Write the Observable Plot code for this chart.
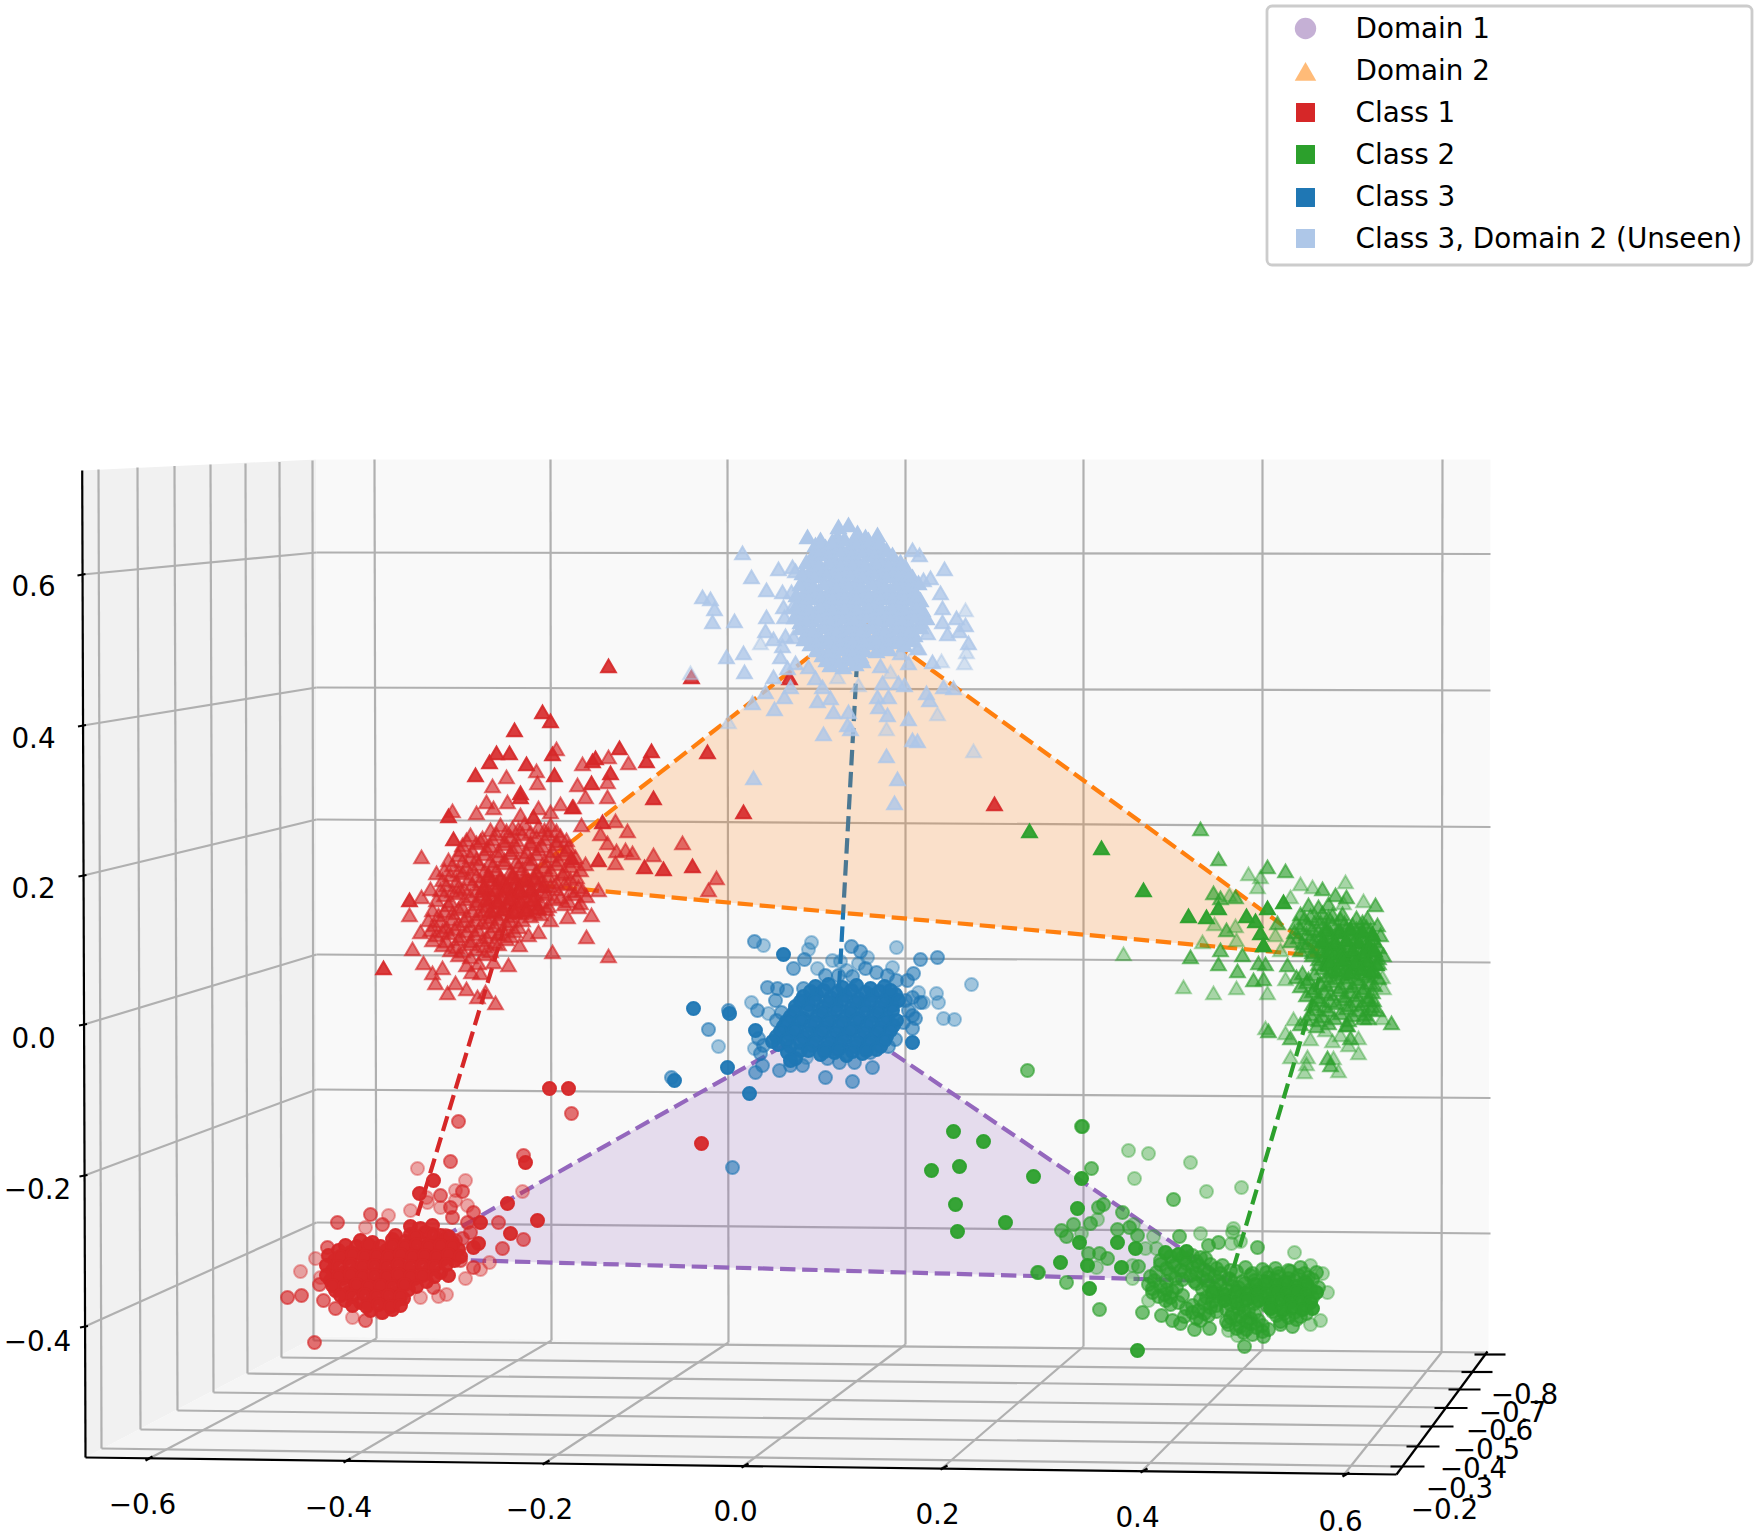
<!DOCTYPE html>
<html>
<head>
<meta charset="utf-8">
<script src="https://cdn.jsdelivr.net/npm/d3@7"></script>
<script src="https://cdn.jsdelivr.net/npm/@observablehq/plot@0.6"></script>
<style>
  html, body { margin: 0; padding: 0; background: #fff; }
  svg { display: block; }
</style>
</head>
<body>
<div id="chart"></div>
<script>
const legendLabels = ["Domain 1", "Domain 2", "Class 1", "Class 2", "Class 3", "Class 3, Domain 2 (Unseen)"]
const legendColors = ["#c5b0d5", "#ffbb78", "#d62728", "#2ca02c", "#1f77b4", "#aec7e8"]
const legendSymbols = ["circle", "triangle", "square", "square", "square", "square"]
const legendY = [28, 71, 112, 154, 197, 238]
const legendTextY = [29, 71, 113, 155, 197, 239]

// floor x axis
const xLabels = ["−0.6", "−0.4", "−0.2", "0.0", "0.2", "0.4", "0.6"]
const xLabelX = [142, 338, 539, 735, 937, 1137, 1340]
const xLabelY = [1505, 1508, 1510, 1512, 1515, 1518, 1522]
const xTopX = [374, 550, 727, 905, 1083, 1262, 1442]
const xBackX = [376, 551, 728, 905, 1083, 1262, 1441]
const xBackY = [1338, 1340, 1342, 1344, 1346, 1349, 1352]
const xFrontX = [145, 343, 542, 741, 940, 1140, 1342]
const xFrontY = [1460, 1462, 1464, 1467, 1469, 1472, 1476]

// depth axis, right side of the floor
const depthLabels = ["−0.8", "−0.7", "−0.6", "−0.5", "−0.4", "−0.3", "−0.2"]
const depthLabelX = [1524, 1512, 1499, 1486, 1473, 1459, 1444]
const depthLabelY = [1395, 1413, 1431, 1450, 1469, 1489, 1510]
const depthTopX = [312, 279, 245, 210, 174, 137, 98]
const depthWallX = [313, 281, 247, 213, 177, 140, 101]
const depthWallTop = [460, 461.5, 463, 464, 465.5, 467, 469]
const depthWallBottom = [1340, 1357, 1373, 1392, 1410, 1429, 1448]
const depthEndX = [1487, 1474, 1460, 1447, 1432, 1417, 1402]
const depthEndY = [1352, 1371, 1388, 1407, 1426, 1445, 1466]
const depthTickIn = [1474, 1461, 1448, 1434, 1420, 1406, 1390]
const depthTickOut = [1505, 1492, 1480, 1467, 1453, 1439, 1424]
const depthTickY = [1354, 1371.5, 1389, 1407.5, 1426, 1446, 1466]

// vertical axis
const zLabels = ["0.6", "0.4", "0.2", "0.0", "−0.2", "−0.4"]
const zLabelX = [33, 33, 33, 33, 37, 37]
const zLabelY = [587, 739, 889, 1039, 1190, 1342]
const zAxisX = [82, 82.5, 83, 83.5, 84, 84.5]
const zAxisY = [574, 725, 875, 1024, 1175, 1326]
const zBackLeft = [552, 687, 819, 954, 1089, 1222]
const zBackRight = [553.5, 690, 826.5, 962, 1097.5, 1233]
const cornerX = 316
const backRightX = 1490

const leftWall = [[81.7, 470], [316, 459], [316, 1336], [85, 1457]]
const backWall = [[316, 459], [1490, 459], [1488, 1352], [316, 1336]]
const floorPane = [[85, 1457], [316, 1336], [1488, 1352], [1396, 1474]]
const axisLines = [[81.7, 470, 85, 1457], [85, 1457, 1396, 1474], [1396, 1474, 1487, 1351]]

// class centres per domain
const d1Class1 = [404, 1258], d1Class2 = [1229, 1281], d1Class3 = [837, 1015]
const d2Class1 = [517, 883], d2Class2 = [1325, 956], d2Class3 = [859, 617]

const blueNear = [[783,954],[729,1013],[755,1030],[727,1067],[674,1080],[749,1093],[912,1042],[890,995],[693,1008],
  [815,986],[828,984],[842,987],[856,985],[870,988],[884,986],
  [803,996],[816,994],[830,997],[845,995],[858,998],[872,995],[886,997],[895,994],
  [795,1006],[808,1004],[822,1007],[836,1005],[850,1008],[864,1005],[878,1007],[892,1005],
  [790,1016],[803,1018],[817,1015],[831,1017],[845,1016],[859,1018],[873,1015],[887,1017],
  [783,1026],[796,1028],[810,1025],[824,1027],[838,1026],[852,1028],[866,1025],[880,1027],[893,1025],
  [776,1036],[789,1034],[803,1037],[817,1035],[831,1037],[845,1035],[860,1037],[874,1035],[886,1036],
  [778,1044],[790,1046],[812,1045],[826,1047],[840,1045],[854,1046],[868,1044],[880,1046],
  [820,1054],[834,1052],[846,1055],[862,1053],[787,1052],[795,1058],[800,1050],[790,1060],
  [810,991],[823,990],[837,992],[851,990],[865,992],[879,991],[890,990],
  [800,1001],[814,1000],[828,1002],[842,1000],[856,1002],[870,1001],[884,1002],[898,1000],
  [794,1011],[808,1010],[822,1012],[836,1010],[850,1012],[864,1011],[878,1012],[892,1010],
  [786,1021],[800,1020],[814,1022],[828,1021],[842,1022],[856,1020],[870,1022],[884,1021],[896,1020],
  [780,1031],[794,1030],[808,1032],[822,1031],[836,1032],[850,1030],[864,1032],[878,1031],[890,1030],
  [772,1041],[786,1040],[800,1042],[814,1041],[828,1042],[842,1040],[856,1042],[870,1041],[884,1040],
  [808,1050],[824,1051],[838,1049],[852,1051],[866,1050],[876,1049]]
const blueMid = [[754,941],[708,1029],[732,1167],[671,1077],[728,1010],[937,957],[920,959],[804,959],[793,968],[851,946],[860,951],
  [825,1077],[852,1081],[872,1067],[854,1062],[839,1062],[827,1058],[779,1070],[755,1072],[762,1065],[802,1065],[790,1065],
  [757,1010],[767,987],[777,988],[786,990],[803,988],[825,975],[865,968],[876,972],[887,975],[896,980],[907,980],[913,973],
  [912,997],[920,1002],[912,1015],[912,1028],[915,1018],[760,1053],[758,1038],[763,1045],[870,1052],[888,1046],[895,1039],
  [775,1000],[781,1012],[776,1020],[905,1000],[908,1010],[903,1022],[838,975],[852,976]]
const blueFar = [[763,945],[811,942],[808,949],[832,960],[840,961],[867,957],[896,947],[892,967],[971,984],[936,993],[938,1002],
  [943,1018],[954,1019],[751,1002],[718,1046],[768,1013],[754,1048],[918,992],[923,1002],[846,970],[858,963],[806,1057],[817,968]]

const red2Near = [[542,712],[550,721],[514,730],[509,753],[496,753],[489,762],[475,775],[526,764],[552,754],[554,775],[592,761],[595,758],
  [619,748],[651,751],[646,761],[610,773],[591,783],[707,752],[653,798],[448,816],[409,900],[520,793],[520,797],[533,817],[572,807],
  [453,839],[602,822],[571,858],[598,860],[644,867],[663,869],[692,866],[383,968],[743,812],[994,804],[608,666],[691,677],[789,678],
  [488,876],[500,879],[512,877],[524,880],[534,878],[483,888],[495,890],[507,887],[519,891],[531,889],[543,886],
  [486,899],[497,901],[509,898],[521,902],[533,900],[490,911],[502,909],[514,912],[526,910],[538,908]]
const red2Mid = [[452,811],[492,786],[506,777],[536,771],[537,783],[556,749],[582,764],[608,757],[628,763],[577,785],[607,782],[585,797],[607,797],
  [560,804],[573,807],[550,812],[476,813],[486,802],[493,808],[507,802],[520,815],[538,808],[581,825],[600,834],[615,821],[627,831],
  [607,843],[616,851],[632,853],[625,850],[653,855],[615,863],[682,843],[708,890],[716,878],[421,857],[436,873],[430,889],[421,897],[409,915],[420,932],
  [412,949],[423,963],[432,973],[442,968],[435,983],[447,993],[455,983],[466,989],[477,997],[485,992],[495,1003],[508,965],[493,962],
  [552,952],[608,956],[586,937],[550,920],[567,917],[591,915],[580,903],[598,890],[538,932],[528,935],[519,945],[471,972],[480,973],
  [500,825],[512,828],[524,824],[538,827],[550,825],
  [470,835],[482,838],[496,834],[510,837],[522,834],[536,837],[548,834],[560,836],
  [462,845],[476,843],[490,846],[504,844],[516,847],[530,844],[542,846],[556,844],[568,847],
  [458,855],[470,857],[484,854],[498,856],[510,853],[524,857],[536,854],[550,856],[564,854],[575,857],
  [452,865],[466,867],[478,864],[492,866],[504,863],[518,866],[530,864],[544,867],[556,864],[570,866],[585,864],
  [450,875],[462,873],[476,876],[488,874],[500,877],[512,874],[524,876],[536,873],[548,876],[562,874],[576,877],
  [446,885],[458,887],[472,884],[484,886],[496,883],[506,886],[516,884],[526,887],[538,884],[550,886],[564,884],[578,887],
  [444,895],[458,893],[470,896],[482,894],[492,897],[502,894],[512,896],[522,893],[534,896],[546,894],[560,897],[574,894],[586,896],
  [448,905],[462,907],[476,904],[486,906],[496,903],[506,906],[516,904],[526,907],[536,904],[548,906],[564,904],[578,907],
  [438,915],[452,913],[466,916],[478,914],[490,917],[500,914],[510,916],[520,913],[530,916],[540,914],
  [434,925],[446,927],[458,924],[470,926],[482,923],[494,926],[506,924],[518,927],
  [436,935],[448,933],[460,936],[474,934],[486,937],[498,934],[510,936],
  [442,945],[456,947],[470,944],[484,946],[498,944],[458,955],[470,957],[484,954],[466,965],[478,963],
  [490,830],[506,831],[518,829],[530,832],[544,830],[556,831],
  [466,840],[480,841],[492,839],[504,841],[516,840],[530,842],[544,839],[556,841],[566,840],
  [460,850],[472,851],[486,849],[498,851],[512,850],[526,852],[538,849],[552,851],[566,850],
  [448,860],[462,861],[476,859],[490,861],[504,860],[516,862],[530,859],[544,861],[558,860],[572,861],
  [444,870],[458,871],[472,869],[484,871],[496,870],[510,872],[522,869],[536,871],[550,870],[564,872],[580,870],
  [442,880],[456,881],[468,879],[480,881],[492,880],[504,882],[516,879],[528,881],[542,880],[556,882],[570,879],
  [440,890],[452,891],[464,889],[476,891],[488,890],[500,892],[510,889],[520,891],[530,890],[542,892],[556,889],[570,891],[582,890],
  [436,900],[450,901],[464,899],[476,901],[488,900],[498,902],[508,899],[518,901],[528,900],[540,902],[554,899],[568,901],
  [432,910],[444,911],[458,909],[472,911],[484,910],[494,912],[504,909],[514,911],[524,910],[534,912],[546,909],
  [428,920],[440,921],[452,919],[464,921],[476,920],[488,922],[498,919],[510,921],[522,920],
  [430,930],[442,931],[454,929],[466,931],[478,930],[490,932],[502,929],[514,931],
  [432,940],[446,941],[458,939],[470,941],[482,940],[494,942],[506,939],[450,950],[462,951],[476,949],[490,951]]

const green2Near = [[1143,890],[1218,908],[1029,831],[1101,848],[1188,916],[1206,917],[1267,908],[1283,902],[1246,916],[1255,921],[1260,933],[1263,945],
  [1326,930],[1338,932],[1350,929],[1362,931],[1372,934],[1322,941],[1334,943],[1346,940],[1358,942],[1368,945],
  [1328,951],[1340,953],[1352,950],[1364,952],[1374,950],[1330,962],[1342,960],[1354,963],[1366,961],[1376,964],[1336,970],[1348,972],[1360,969],[1370,971]]
const green2Mid = [[1200,829],[1218,859],[1267,867],[1285,871],[1322,889],[1335,895],[1346,897],[1375,905],[1213,893],[1220,898],[1235,897],[1226,930],[1263,945],
  [1220,950],[1190,957],[1242,955],[1218,964],[1237,971],[1258,963],[1265,964],[1253,980],[1263,979],[1268,1031],[1290,1038],[1327,1058],[1330,1065],[1350,1038],
  [1391,1023],[1363,1018],[1368,1018],[1347,1025],[1377,1010],[1373,1000],[1383,955],[1380,935],[1377,925],[1367,918],[1287,965],[1277,923],
  [1308,905],[1318,907],[1328,904],[1300,914],[1310,916],[1322,913],[1332,915],[1342,914],
  [1296,923],[1308,925],[1320,922],[1332,924],[1344,923],[1352,925],[1362,922],
  [1294,932],[1306,934],[1318,931],[1330,933],[1340,931],[1350,934],[1360,932],[1370,930],
  [1290,941],[1302,943],[1314,940],[1324,942],[1334,941],[1344,943],[1354,940],[1364,942],[1374,941],
  [1300,950],[1312,952],[1322,949],[1332,951],[1342,950],[1352,952],[1362,949],[1372,951],
  [1318,959],[1328,961],[1338,958],[1348,960],[1358,959],[1368,961],[1378,958],
  [1322,968],[1332,970],[1342,967],[1352,969],[1362,968],[1372,970],
  [1296,977],[1308,979],[1326,976],[1336,978],[1346,977],[1358,979],[1368,976],[1378,978],
  [1300,986],[1314,988],[1326,985],[1340,987],[1352,986],[1364,988],[1374,985],
  [1306,995],[1318,997],[1330,994],[1344,996],[1356,995],[1368,997],
  [1312,1004],[1324,1006],[1336,1003],[1350,1005],[1362,1004],[1372,1006],
  [1310,1014],[1322,1016],[1340,1013],[1352,1015],[1364,1014],[1300,1024],[1316,1026],[1328,1023],[1346,1025],
  [1304,918],[1316,919],[1328,917],[1340,919],[1356,918],
  [1300,928],[1312,929],[1326,927],[1338,929],[1346,928],[1356,929],[1366,927],
  [1298,937],[1310,938],[1320,936],[1330,938],[1342,937],[1352,938],[1362,936],[1372,938],
  [1306,946],[1318,947],[1328,945],[1338,947],[1348,946],[1358,947],[1368,945],[1378,947],
  [1312,955],[1324,956],[1334,954],[1344,956],[1354,955],[1364,956],[1374,954],
  [1318,964],[1328,965],[1338,963],[1348,965],[1358,964],[1368,965],[1378,963],
  [1302,973],[1314,974],[1330,972],[1342,974],[1352,973],[1364,974],[1374,972],
  [1306,982],[1320,983],[1332,981],[1346,983],[1358,982],[1370,983],
  [1312,991],[1324,992],[1338,990],[1350,992],[1362,991],[1372,992],
  [1318,1000],[1330,1001],[1344,999],[1356,1001],[1368,1000],
  [1316,1009],[1328,1010],[1346,1008],[1358,1010],[1370,1009],[1306,1019],[1318,1020],[1334,1018],[1348,1020]]
const green2Far = [[1248,874],[1260,877],[1257,887],[1300,884],[1312,887],[1345,882],[1343,903],[1363,901],[1229,895],[1214,924],[1235,926],[1236,940],[1202,942],
  [1290,897],[1123,954],[1183,987],[1213,993],[1236,988],[1267,993],[1265,1028],[1285,1033],[1293,1019],[1290,1057],[1307,1057],[1306,1064],[1304,1072],
  [1333,1058],[1338,1071],[1358,1053],[1348,1045],[1358,1038],[1340,1035],[1332,1041],[1325,1030],[1310,1039],[1382,1018],[1382,977],[1383,988],[1280,950],[1285,979],[1275,935]]

const lightNear = [[807,537],[838,527],[848,525],[837,537],[857,533],[865,537],[877,535],
  [815,545],[825,547],[838,544],[850,546],[860,543],[870,546],[880,544],
  [812,556],[822,554],[833,557],[845,555],[856,558],[868,555],[880,557],[892,555],
  [812,567],[824,569],[835,566],[846,568],[858,567],[870,569],[882,566],[894,568],[905,567],
  [808,578],[820,576],[832,579],[844,577],[856,580],[868,577],[880,579],[892,576],[904,579],[912,577],
  [806,589],[818,591],[830,588],[842,590],[854,589],[866,591],[878,588],[890,590],[902,589],[914,591],
  [802,600],[814,598],[826,601],[838,599],[850,602],[862,599],[874,601],[886,598],[898,601],[910,599],[920,600],
  [802,611],[814,613],[826,610],[838,612],[850,611],[862,613],[874,610],[886,612],[898,611],[910,613],[922,610],
  [800,622],[812,620],[824,623],[836,621],[848,624],[860,621],[872,623],[884,620],[896,623],[908,621],[920,622],
  [806,633],[818,635],[830,632],[842,634],[854,633],[866,635],[878,632],[890,634],[902,633],[914,635],
  [810,644],[822,642],[834,645],[846,643],[858,646],[870,643],[882,645],[894,642],[904,645],
  [822,655],[835,657],[848,654],[860,656],[830,665],[843,667],[855,664],
  [820,540],[832,541],[844,539],[856,541],[868,540],[878,541],
  [818,551],[828,552],[840,550],[851,552],[862,551],[874,552],[886,550],
  [806,562],[818,563],[829,561],[840,563],[852,562],[864,563],[876,561],[888,563],[900,562],
  [802,573],[814,574],[826,572],[838,574],[850,573],[862,574],[874,572],[886,574],[898,573],[908,574],
  [800,584],[812,585],[824,583],[836,585],[848,584],[860,585],[872,583],[884,585],[896,584],[908,585],[918,583],
  [796,595],[808,596],[820,594],[832,596],[844,595],[856,596],[868,594],[880,596],[892,595],[904,596],[915,594],
  [796,606],[808,607],[820,605],[832,607],[844,606],[856,607],[868,605],[880,607],[892,606],[904,607],[916,605],
  [794,617],[806,618],[818,616],[830,618],[842,617],[854,618],[866,616],[878,618],[890,617],[902,618],[914,616],[926,618],
  [800,628],[812,629],[824,627],[836,629],[848,628],[860,629],[872,627],[884,629],[896,628],[908,629],[920,627],
  [804,639],[816,640],[828,638],[840,640],[852,639],[864,640],[876,638],[888,640],[900,639],[910,640],
  [816,650],[828,651],[840,649],[852,651],[864,650],[876,651],[888,649],[826,660],[838,661],[850,659],[862,661]]
const lightMid = [[742,553],[751,577],[778,569],[792,567],[795,571],[766,590],[782,592],[791,592],[702,597],[710,599],[714,609],[712,622],[734,621],
  [766,617],[784,617],[792,607],[783,607],[765,631],[773,639],[782,646],[785,636],[793,637],[726,657],[743,653],[744,672],[780,657],[795,663],
  [773,677],[787,668],[808,667],[815,678],[822,687],[790,687],[765,692],[784,697],[752,703],[774,709],[817,701],[830,698],[833,712],[848,712],
  [847,725],[850,729],[823,734],[753,778],[887,715],[886,756],[897,779],[894,803],[908,719],[912,740],[917,741],[877,697],[878,707],[888,697],
  [880,666],[882,683],[898,683],[904,685],[908,663],[900,653],[918,648],[932,662],[926,693],[929,700],[943,687],[953,688],[947,634],[959,631],
  [965,625],[956,618],[942,622],[942,608],[940,593],[944,569],[919,555],[912,550],[923,580],[930,578],[927,633],[917,648],[968,643]]
const lightFar = [[690,673],[760,643],[728,722],[886,729],[937,714],[973,751],[858,685],[837,677],[890,672],[941,661],[964,663],[966,652],[965,610]]

const red1Near = [[568,1088],[433,1180],[419,1193],[525,1162],[507,1203],[537,1220],[510,1233],[480,1222],[473,1247],[478,1243],[403,1298],[448,1275],[701,1143],[549,1088],
  [410,1226],[420,1228],[432,1225],[410,1234],[425,1232],[440,1235],
  [360,1240],[372,1242],[392,1239],[405,1241],[418,1238],[430,1242],[442,1240],[452,1242],
  [338,1250],[350,1252],[362,1249],[374,1251],[386,1250],[398,1252],[410,1249],[422,1251],[434,1250],[446,1252],[458,1249],
  [334,1260],[346,1258],[358,1261],[370,1259],[382,1262],[394,1259],[406,1261],[418,1258],[430,1261],[442,1259],[454,1260],
  [332,1270],[344,1272],[356,1269],[368,1271],[380,1270],[392,1272],[404,1269],[416,1271],[428,1270],[440,1272],
  [330,1280],[342,1278],[354,1281],[366,1279],[378,1282],[390,1279],[402,1281],[414,1278],[426,1281],
  [335,1290],[348,1292],[360,1289],[372,1291],[384,1290],[396,1292],[408,1289],
  [345,1300],[360,1302],[372,1299],[384,1301],[396,1300],[370,1310],[382,1312],[392,1309],
  [395,1235],[415,1236],[432,1234],[448,1236],
  [345,1245],[356,1246],[368,1244],[380,1246],[392,1245],[404,1246],[416,1244],[428,1246],[440,1245],[452,1246],
  [328,1255],[340,1256],[352,1254],[364,1256],[376,1255],[388,1256],[400,1254],[412,1256],[424,1255],[436,1256],[448,1254],[460,1256],
  [326,1265],[338,1266],[350,1264],[362,1266],[374,1265],[386,1266],[398,1264],[410,1266],[422,1265],[434,1266],[446,1264],
  [326,1275],[338,1276],[350,1274],[362,1276],[374,1275],[386,1276],[398,1274],[410,1276],[422,1275],[434,1276],
  [332,1285],[344,1286],[356,1284],[368,1286],[380,1285],[392,1286],[404,1284],[416,1286],
  [340,1295],[352,1296],[364,1294],[376,1296],[388,1295],[400,1296],[352,1305],[366,1306],[378,1304],[390,1306],[400,1305]]
const red1Mid = [[571,1113],[458,1121],[450,1161],[523,1155],[498,1222],[523,1239],[502,1248],[467,1222],[462,1191],[440,1195],[450,1207],[473,1212],[452,1217],
  [370,1214],[337,1222],[382,1224],[327,1247],[287,1297],[301,1295],[314,1342],[323,1300],[335,1308],[365,1320],[433,1287],[473,1267],[460,1260],[319,1284],
  [445,1235],[455,1240],[462,1238],[470,1232]]
const red1Far = [[417,1168],[522,1191],[489,1262],[465,1180],[455,1190],[426,1197],[427,1202],[455,1200],[467,1205],[440,1207],[410,1210],[388,1215],[365,1227],
  [315,1258],[300,1271],[352,1317],[380,1312],[420,1297],[438,1296],[446,1294],[465,1278],[480,1269],[320,1277]]

const green1Near = [[1033,1176],[953,1131],[983,1141],[931,1170],[959,1166],[955,1204],[957,1231],[1005,1222],[1077,1208],[1079,1242],[1117,1242],[1060,1262],[1087,1265],[1121,1267],[1089,1288],[1137,1350],
  [1081,1178],[1135,1248],[1165,1252],[1178,1254],[1186,1251],
  [1255,1284],[1266,1282],[1276,1285],[1286,1283],[1296,1286],[1306,1283],[1256,1292],[1266,1294],[1276,1291],[1286,1293],[1296,1291],[1306,1294],[1316,1292],
  [1258,1300],[1270,1302],[1280,1299],[1290,1301],[1300,1300],[1310,1302],[1270,1308],[1282,1310],[1292,1307],[1302,1309],[1312,1308],[1212,1292],[1224,1294],[1236,1291],[1246,1293],[1224,1300],[1236,1302],[1246,1299]]
const green1Mid = [[1027,1070],[1081,1126],[1082,1126],[1091,1168],[1173,1199],[1103,1204],[1098,1207],[1122,1212],[1090,1223],[1073,1224],[1061,1230],[1066,1236],[1117,1229],[1129,1227],[1137,1235],
  [1179,1236],[1208,1245],[1218,1242],[1257,1247],[1088,1253],[1099,1253],[1107,1258],[1037,1272],[1066,1282],[1138,1266],[1099,1309],[1142,1312],[1161,1315],[1172,1320],[1180,1323],[1194,1329],[1209,1328],[1244,1346],[1263,1336],[1038,1272],
  [1160,1260],[1172,1262],[1184,1259],[1196,1261],[1205,1258],
  [1166,1268],[1180,1270],[1192,1267],[1204,1269],[1216,1268],[1230,1270],[1245,1267],[1262,1269],[1275,1268],[1288,1270],[1300,1267],
  [1150,1276],[1175,1278],[1190,1275],[1202,1277],[1214,1276],[1228,1278],[1250,1275],[1268,1277],[1278,1276],[1288,1278],[1298,1275],[1308,1277],
  [1148,1284],[1160,1286],[1196,1283],[1208,1285],[1220,1284],[1232,1286],[1244,1283],
  [1152,1292],[1164,1294],[1172,1291],[1165,1300],[1178,1302],[1200,1299],[1212,1301],
  [1186,1308],[1198,1310],[1210,1307],[1226,1309],[1238,1308],[1248,1310],
  [1184,1316],[1196,1318],[1208,1315],[1230,1317],[1240,1316],[1250,1318],[1276,1315],[1288,1317],[1300,1316],
  [1228,1324],[1240,1326],[1250,1323],[1262,1325],[1280,1324],[1292,1326],[1243,1332],[1252,1334],[1262,1331],
  [1170,1256],[1182,1257],[1192,1255],[1200,1257],
  [1160,1264],[1174,1265],[1186,1263],[1198,1265],[1210,1264],[1222,1265],
  [1156,1272],[1170,1273],[1184,1271],[1196,1273],[1208,1272],[1220,1273],[1236,1271],[1252,1273],[1266,1272],[1278,1273],[1290,1271],[1304,1273],[1316,1272],
  [1154,1280],[1166,1281],[1182,1279],[1194,1281],[1206,1280],[1218,1281],[1230,1279],[1242,1281],[1254,1280],[1264,1281],[1274,1279],[1284,1281],[1294,1280],[1304,1281],[1312,1279],
  [1152,1288],[1166,1289],[1176,1287],[1202,1289],[1214,1288],[1226,1289],[1238,1287],[1250,1289],[1260,1288],[1270,1289],[1280,1287],[1290,1289],[1300,1288],[1310,1289],[1318,1287],
  [1158,1296],[1170,1297],[1182,1295],[1206,1297],[1218,1296],[1230,1297],[1240,1295],[1252,1297],[1262,1296],[1272,1297],[1282,1295],[1292,1297],[1302,1296],[1312,1297],
  [1170,1304],[1192,1305],[1204,1303],[1216,1305],[1230,1304],[1242,1305],[1254,1303],[1266,1305],[1276,1304],[1286,1305],[1296,1303],[1306,1305],
  [1192,1312],[1204,1313],[1216,1311],[1232,1313],[1244,1312],[1254,1313],[1272,1311],[1284,1313],[1294,1312],[1306,1313],
  [1200,1320],[1226,1321],[1236,1319],[1246,1321],[1258,1320],[1280,1321],[1296,1319],[1236,1328],[1246,1329],[1256,1327],[1268,1329]]
const green1Far = [[1128,1150],[1148,1153],[1190,1162],[1134,1178],[1206,1191],[1241,1187],[1097,1219],[1081,1233],[1133,1224],[1145,1248],[1153,1236],[1156,1248],[1200,1233],
  [1233,1228],[1232,1232],[1240,1241],[1231,1243],[1294,1252],[1096,1267],[1132,1265],[1132,1278],[1148,1300],[1253,1323],[1228,1330],[1237,1335],[1310,1324],[1320,1320],[1327,1292],[1322,1273],[1310,1265]]

const font = "DejaVu Sans"
const labelSize = 27.8
const gridColor = "#b0b0b0"

function links(rows, options) {
  return Plot.link(rows, {x1: d => d[0], y1: d => d[1], x2: d => d[2], y2: d => d[3], ...options})
}

function pane(corners, options) {
  return Plot.line(corners, {x: d => d[0], y: d => d[1], curve: "linear-closed", stroke: "none", ...options})
}

function tickText(labels, xs, ys) {
  return Plot.text(labels, {x: (d, i) => xs[i], y: (d, i) => ys[i], text: d => d, fontSize: labelSize, fill: "black", textAnchor: "middle", lineAnchor: "middle"})
}

function points(rows, color, alpha, symbol) {
  const triangle = symbol === "triangle"
  return Plot.dot(rows, {
    x: d => d[0], y: d => d[1], symbol,
    r: triangle ? 5.5 : 6.5,
    dy: triangle ? 1.5 : 0,
    fill: color, stroke: color, strokeWidth: 2, fillOpacity: alpha, strokeOpacity: alpha
  })
}

function dashed(a, b, color) {
  return Plot.link([[a, b]], {
    x1: d => d[0][0], y1: d => d[0][1], x2: d => d[1][0], y2: d => d[1][1],
    stroke: color, strokeWidth: 4.2, strokeDasharray: "15.4,6.7", strokeLinecap: "butt"
  })
}

// one legend row per mark: a constant r stays in pixels
function legendMark(i) {
  const triangle = legendSymbols[i] === "triangle"
  return Plot.dot([legendLabels[i]], {
    x: () => 1305, y: () => legendY[i], symbol: legendSymbols[i],
    r: triangle ? 8 : 10.7, dy: triangle ? 3 : 0, fill: legendColors[i]
  })
}

const depthIdx = d3.range(depthLabels.length)
const xIdx = d3.range(xLabels.length)
const zIdx = d3.range(zLabels.length)

const chart = Plot.plot({
  width: 1760,
  height: 1539,
  margin: 0,
  style: {background: "white", fontFamily: font},
  x: {domain: [0, 1760], range: [0, 1760], axis: null},
  y: {domain: [0, 1539], range: [0, 1539], axis: null},
  marks: [
    pane(leftWall, {fill: "#f1f1f1"}),
    pane(floorPane, {fill: "#f5f5f5"}),
    pane(backWall, {fill: "#f9f9f9"}),

    // grid
    links(depthIdx.map(i => [depthTopX[i], depthWallTop[i], depthWallX[i], depthWallBottom[i]]), {stroke: gridColor, strokeWidth: 2.2}),
    links(depthIdx.map(i => [depthWallX[i], depthWallBottom[i], depthEndX[i], depthEndY[i]]), {stroke: gridColor, strokeWidth: 2.2}),
    links(xIdx.map(i => [xTopX[i], 459, xBackX[i], xBackY[i]]), {stroke: gridColor, strokeWidth: 2.2}),
    links(xIdx.map(i => [xBackX[i], xBackY[i], xFrontX[i], xFrontY[i]]), {stroke: gridColor, strokeWidth: 2.2}),
    links(zIdx.map(i => [zAxisX[i], zAxisY[i], cornerX, zBackLeft[i]]), {stroke: gridColor, strokeWidth: 2.2}),
    links(zIdx.map(i => [cornerX, zBackLeft[i], backRightX, zBackRight[i]]), {stroke: gridColor, strokeWidth: 2.2}),

    // axis lines and ticks
    links(axisLines, {stroke: "black", strokeWidth: 2.2}),
    links(depthIdx.map(i => [depthTickIn[i], depthTickY[i], depthTickOut[i], depthTickY[i]]), {stroke: "black", strokeWidth: 2.2}),
    links(xIdx.map(i => [xFrontX[i], xFrontY[i], xFrontX[i] + 7, xFrontY[i] - 4]), {stroke: "black", strokeWidth: 2.2}),
    links(zIdx.map(i => [zAxisX[i] - 5, zAxisY[i] + 1, zAxisX[i] + 3, zAxisY[i] - 0.5]), {stroke: "black", strokeWidth: 2.2}),

    tickText(xLabels, xLabelX, xLabelY),
    tickText(depthLabels, depthLabelX, depthLabelY),
    tickText(zLabels, zLabelX, zLabelY),

    // the blue link runs behind the orange sheet
    dashed(d2Class3, d1Class3, "#1f77b4"),
    pane([d1Class1, d1Class3, d1Class2], {fill: "#9467bd", fillOpacity: 0.2}),
    pane([d2Class1, d2Class3, d2Class2], {fill: "#ff7f0e", fillOpacity: 0.2}),
    dashed(d1Class1, d1Class3, "#9467bd"),
    dashed(d1Class3, d1Class2, "#9467bd"),
    dashed(d1Class1, d1Class2, "#9467bd"),
    dashed(d2Class1, d2Class3, "#ff7f0e"),
    dashed(d2Class3, d2Class2, "#ff7f0e"),
    dashed(d2Class1, d2Class2, "#ff7f0e"),
    dashed(d2Class1, d1Class1, "#d62728"),
    dashed(d2Class2, d1Class2, "#2ca02c"),

    points(red1Far, "#d62728", 0.4, "circle"),
    points(red1Mid, "#d62728", 0.65, "circle"),
    points(red1Near, "#d62728", 0.95, "circle"),
    points(green1Far, "#2ca02c", 0.4, "circle"),
    points(green1Mid, "#2ca02c", 0.65, "circle"),
    points(green1Near, "#2ca02c", 0.95, "circle"),
    points(blueFar, "#1f77b4", 0.4, "circle"),
    points(blueMid, "#1f77b4", 0.6, "circle"),
    points(blueNear, "#1f77b4", 0.95, "circle"),
    points(red2Mid, "#d62728", 0.65, "triangle"),
    points(red2Near, "#d62728", 0.9, "triangle"),
    points(green2Far, "#2ca02c", 0.4, "triangle"),
    points(green2Mid, "#2ca02c", 0.65, "triangle"),
    points(green2Near, "#2ca02c", 0.95, "triangle"),
    points(lightFar, "#aec7e8", 0.5, "triangle"),
    points(lightMid, "#aec7e8", 0.8, "triangle"),
    points(lightNear, "#aec7e8", 1, "triangle"),

    // legend
    Plot.rect([0], {x1: () => 1267, x2: () => 1752, y1: () => 6, y2: () => 265, fill: "white", stroke: "#cccccc", strokeWidth: 2.8, rx: 5}),
    ...legendLabels.map((d, i) => legendMark(i)),
    Plot.text(legendLabels, {x: () => 1355, y: (d, i) => legendTextY[i], text: d => d, fontSize: labelSize, fill: "black", textAnchor: "start", lineAnchor: "middle"})
  ]
})

document.querySelector("#chart").append(chart)
</script>
</body>
</html>
